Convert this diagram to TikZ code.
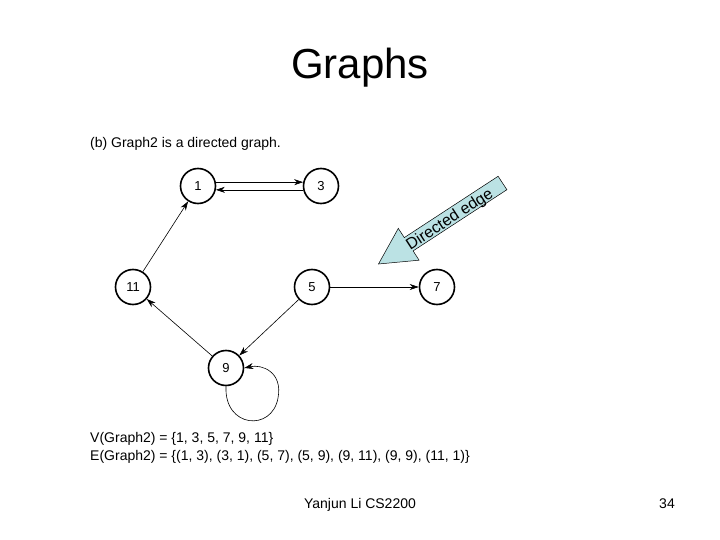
\documentclass[tikz,border=0pt]{standalone}
\usepackage{fontspec}
\setmainfont{Liberation Sans}
\usetikzlibrary{arrows.meta,positioning}
\definecolor{callout}{RGB}{187,226,228}
\tikzset{
  every picture/.style={font=\fontsize{14}{16}\selectfont},
  gnode/.style={draw,shape=circle,line width=1.6pt,minimum width=35pt,minimum height=35pt,inner sep=0pt,font=\fontsize{13}{15}\selectfont},
  edge/.style={line width=0.6pt,-{Stealth[length=9pt,width=6pt]}},
  textline/.style={anchor=base west,inner sep=0pt},
}

\begin{document}
\begin{tikzpicture}[x=1pt,y=-1pt]
  \useasboundingbox[fill=white] (0,0) rectangle (720,540);
  \node[anchor=base,inner sep=0pt,font=\fontsize{42}{48}\selectfont] (title) at (360,79) {Graphs};
  \node[textline] (cap) at (90,148) {(b) Graph2 is a directed graph.};

  \node[gnode] (n1) at (198,186) {1};
  \node[gnode] (n3) at (321,186) {3};
  \node[gnode] (n11) at (133,287) {11};
  \node[gnode] (n5) at (312,287) {5};
  \node[gnode] (n7) at (437,287) {7};
  \node[gnode] (n9) at (226,368) {9};

  \draw[edge] (n1.12) -- (n3.168);
  \draw[edge] (n3.192) -- (n1.-12);
  \draw[edge] (n11) -- (n1);
  \draw[edge] (n5) -- (n7);
  \draw[edge] (n5) -- (n9);
  \draw[edge] (n9) -- (n11);
  \draw[edge] (n9.south) .. controls (224,428) and (272,432) .. (278,398)
    .. controls (283,372) and (262,364) .. (n9.east);

  \draw[fill=callout,line width=0.5pt] (498.1,176.3) -- (506.9,189.7) -- (413.1,250.9)
    -- (419.1,260.2) -- (378.5,264) -- (398.3,228.4) -- (404.3,237.6) -- cycle;
  \node[rotate=33,inner sep=0pt,font=\fontsize{16}{18}\selectfont] (lbl) at (450,220) {Directed edge};

  \node[textline] (vset) at (90,442) {V(Graph2) = \{1, 3, 5, 7, 9, 11\}};
  \node[textline] (eset) at (90,460) {E(Graph2) = \{(1, 3), (3, 1), (5, 7), (5, 9), (9, 11), (9, 9), (11, 1)\}};

  \node[anchor=base,inner sep=0pt] (foot) at (360,508) {Yanjun Li CS2200};
  \node[anchor=base,inner sep=0pt] (page) at (667,508) {34};
\end{tikzpicture}
\end{document}
